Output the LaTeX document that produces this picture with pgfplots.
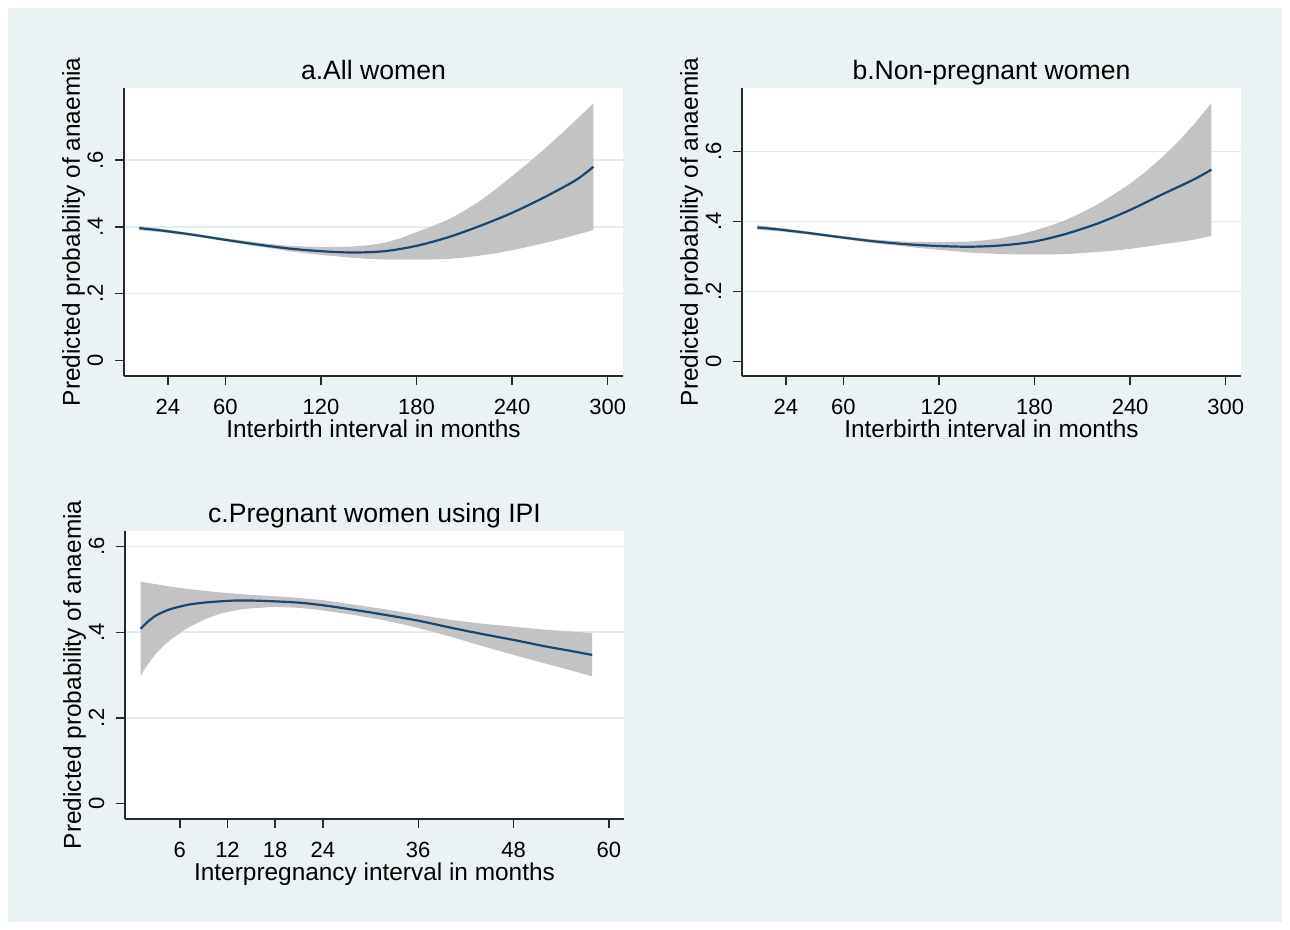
\documentclass[border=0pt]{standalone}
\usepackage{fontspec}
\setmainfont{Liberation Sans}
\usepackage{pgfplots}
\pgfplotsset{compat=1.18}
\usepackage{pgfplotstable}

\definecolor{bgblue}{HTML}{EAF2F3}
\definecolor{gridc}{HTML}{E3EDEF}
\definecolor{navy}{HTML}{1A476F}
\definecolor{bandgray}{RGB}{195,195,195}
\definecolor{axc}{RGB}{40,40,40}

% ---------- Panel a ----------
\pgfplotstableread{
x m
6 0.396
20 0.389
40 0.376
60 0.361
80 0.347
100 0.335
120 0.327
140 0.323
160 0.327
180 0.343
200 0.369
220 0.403
240 0.442
260 0.488
280 0.540
291 0.580
}\meanA
% 95% CI band: upper bound left to right, then lower bound right to left
\pgfplotstableread{
x y
6 0.402
20 0.394
40 0.380
60 0.366
80 0.353
100 0.343
120 0.339
140 0.341
150 0.345
160 0.352
170 0.366
180 0.384
190 0.402
200 0.422
210 0.448
220 0.478
230 0.514
240 0.552
250 0.591
260 0.632
270 0.675
280 0.720
291 0.770
291 0.390
280 0.376
270 0.363
260 0.351
250 0.340
240 0.330
230 0.321
220 0.314
210 0.308
200 0.304
190 0.302
180 0.302
170 0.302
160 0.302
150 0.304
140 0.307
120 0.316
100 0.327
80 0.342
60 0.357
40 0.372
20 0.384
6 0.390
}\bandA

% ---------- Panel b ----------
\pgfplotstableread{
x m
6 0.383
20 0.377
40 0.366
60 0.354
80 0.343
100 0.335
120 0.330
140 0.328
160 0.332
180 0.343
200 0.365
220 0.395
240 0.433
260 0.477
280 0.520
291 0.548
}\meanB
\pgfplotstableread{
x y
6 0.389
20 0.382
40 0.370
60 0.358
80 0.348
100 0.342
120 0.341
140 0.343
150 0.347
160 0.353
170 0.362
180 0.374
190 0.388
200 0.405
210 0.426
220 0.450
230 0.478
240 0.508
250 0.543
260 0.583
270 0.627
280 0.677
291 0.738
291 0.359
280 0.348
270 0.341
260 0.335
250 0.328
240 0.322
230 0.317
220 0.313
210 0.310
200 0.307
190 0.306
180 0.306
170 0.306
160 0.307
150 0.309
140 0.311
120 0.319
100 0.328
80 0.338
60 0.350
40 0.362
20 0.372
6 0.377
}\bandB

% ---------- Panel c ----------
\pgfplotstableread{
x m
1.07 0.408
2 0.425
3 0.439
4 0.448
5 0.455
7 0.464
9 0.469
11 0.472
13 0.474
15 0.474
18 0.472
21 0.469
24 0.463
28 0.452
32 0.440
36 0.427
40 0.411
44 0.396
48 0.382
52 0.367
55 0.357
57.9 0.347
}\meanC
\pgfplotstableread{
x y
1.07 0.518
2 0.515
3 0.512
4 0.509
5 0.506
7 0.501
9 0.497
11 0.493
13 0.490
15 0.487
18 0.484
21 0.480
24 0.475
28 0.464
32 0.453
36 0.441
40 0.429
44 0.420
48 0.413
52 0.406
55 0.402
57.9 0.398
57.9 0.297
55 0.312
52 0.327
48 0.347
44 0.368
40 0.390
36 0.410
32 0.427
28 0.440
24 0.451
21 0.457
18 0.459
15 0.456
13 0.451
11 0.443
9 0.429
7 0.410
5 0.385
4 0.369
3 0.350
2 0.326
1.5 0.312
1.07 0.297
}\bandC

\pgfplotsset{
  statastyle/.style={
    scale only axis,
    width=249.5pt, height=144.15pt,
    axis x line*=bottom, axis y line*=left,
    axis line style={axc, line width=0.7pt},
    axis background/.style={fill=white},
    tick align=outside, major tick length=4.5pt,
    tick style={axc, line width=0.7pt},
    ytick={0.2,0.4,0.6}, yticklabels={.2,.4,.6},
    extra y ticks={0}, extra y tick labels={0},
    extra y tick style={grid=none},
    ymajorgrids, grid style={gridc, line width=0.9pt},
    /pgf/number format/assume math mode=true,
    xticklabel shift=15pt, yticklabel shift=6pt,
    yticklabel style={rotate=90, anchor=base, font=\fontsize{11}{13}\selectfont},
    xticklabel style={anchor=base, font=\fontsize{11}{13}\selectfont},
    every axis title shift=0pt,
    title style={at={(axis description cs:0.5,1.0277)}, anchor=base, font=\fontsize{13.3}{15}\selectfont},
    xlabel style={at={(axis description cs:0.5,-0.214)}, anchor=base, font=\fontsize{12.2}{14}\selectfont},
    ylabel style={at={(axis description cs:-0.0882,0.5)}, anchor=base, rotate=0, font=\fontsize{12.2}{14}\selectfont},
    ylabel={Predicted probability of anaemia},
  },
  bandstyle/.style={fill=bandgray, draw=none},
  meanstyle/.style={navy, line width=1.1pt, smooth},
}

\begin{document}
\begin{tikzpicture}[x=1pt,y=1pt]
\fill[white] (0,0) rectangle (645,465);
\fill[bgblue] (4,4) rectangle (641,461);

% Panel a
\begin{axis}[statastyle, at={(62pt,277pt)}, anchor=south west,
  xmin=-3.6, xmax=309.6, ymin=-0.047, ymax=0.817,
  xtick={24,60,120,180,240,300},
  title={a.All women}, xlabel={Interbirth interval in months}]
  \addplot[bandstyle] table[x=x,y=y]{\bandA} -- cycle;
  \addplot[meanstyle] table[x=x,y=m]{\meanA};
\end{axis}

% Panel b
\begin{axis}[statastyle, at={(371pt,277pt)}, anchor=south west,
  xmin=-3.6, xmax=309.6, ymin=-0.041, ymax=0.782,
  xtick={24,60,120,180,240,300},
  title={b.Non-pregnant women}, xlabel={Interbirth interval in months}]
  \addplot[bandstyle] table[x=x,y=y]{\bandB} -- cycle;
  \addplot[meanstyle] table[x=x,y=m]{\meanB};
\end{axis}

% Panel c
\begin{axis}[statastyle, at={(62.5pt,55.5pt)}, anchor=south west,
  xmin=-0.9, xmax=61.9, ymin=-0.036, ymax=0.637,
  xtick={6,12,18,24,36,48,60},
  title={c.Pregnant women using IPI}, xlabel={Interpregnancy interval in months}]
  \addplot[bandstyle] table[x=x,y=y]{\bandC} -- cycle;
  \addplot[meanstyle] table[x=x,y=m]{\meanC};
\end{axis}
\end{tikzpicture}
\end{document}
